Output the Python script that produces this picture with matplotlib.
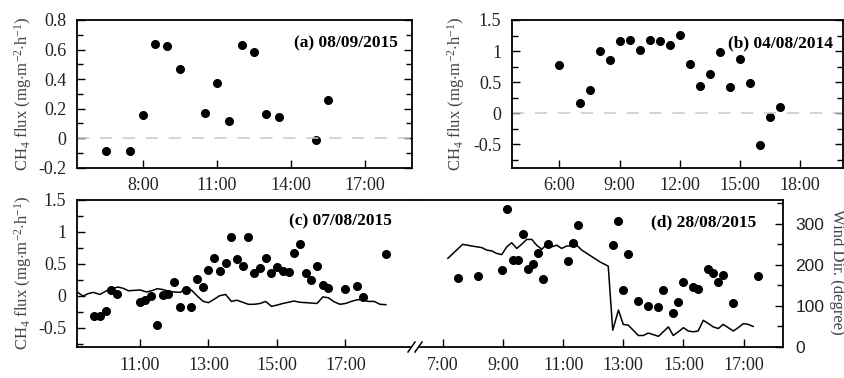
import matplotlib
matplotlib.use("Agg")
import matplotlib.pyplot as plt
from matplotlib.ticker import MultipleLocator, FuncFormatter, FixedLocator
from matplotlib.lines import Line2D

# ---------------- data ----------------
# (a) 08/09/2015
a_time = [6.5, 7.5, 8.0, 8.5, 9.0, 9.5, 10.5, 11.0, 11.5, 12.0, 12.5, 13.0, 13.5, 15.0, 15.5]
a_flux = [-0.09, -0.085, 0.155, 0.636, 0.627, 0.467, 0.171, 0.371, 0.115, 0.634, 0.584, 0.162, 0.144, -0.011, 0.256]

# (b) 04/08/2014
b_time = [6.0, 7.0, 7.5, 8.0, 8.5, 9.0, 9.5, 10.0, 10.5, 11.0, 11.5, 12.0, 12.5, 13.0, 13.5,
          14.0, 14.5, 15.0, 15.5, 16.0, 16.5, 17.0]
b_flux = [0.778, 0.162, 0.368, 1.005, 0.859, 1.168, 1.178, 1.016, 1.184, 1.157, 1.097, 1.254, 0.80,
          0.432, 0.638, 0.984, 0.416, 0.870, 0.486, -0.508, -0.065, 0.108]

# (c) 07/08/2015  CH4 flux
c_time = [9.67, 9.83, 10.0, 10.16, 10.33, 11.0, 11.16, 11.32, 11.49, 11.66, 11.83, 12.0, 12.18,
          12.33, 12.5, 12.67, 12.84, 13.0, 13.16, 13.33, 13.5, 13.67, 13.83, 14.0, 14.16, 14.34,
          14.5, 14.67, 14.84, 15.0, 15.17, 15.34, 15.5, 15.66, 15.84, 16.0, 16.17, 16.34, 16.5,
          17.0, 17.34, 17.5, 18.18]
c_flux = [-0.32, -0.31, -0.23, 0.093, 0.031, -0.093, -0.057, 0.0, -0.456, 0.016, 0.036, 0.22, -0.18,
          0.088, -0.18, 0.26, 0.145, 0.41, 0.59, 0.383, 0.518, 0.927, 0.575, 0.47, 0.917, 0.352,
          0.44, 0.585, 0.352, 0.446, 0.394, 0.373, 0.674, 0.808, 0.352, 0.244, 0.466, 0.166, 0.124,
          0.114, 0.150, -0.02, 0.653]
# (c) wind direction
c_wtime = [9.20, 9.34, 9.49, 9.64, 9.83, 10.0, 10.17, 10.36, 10.51, 10.66, 10.85, 11.0, 11.19,
           11.34, 11.51, 11.66, 11.83, 12.0, 12.18, 12.36, 12.51, 12.70, 12.85, 13.0, 13.16, 13.33,
           13.50, 13.67, 13.83, 14.0, 14.16, 14.34, 14.51, 14.67, 14.84, 15.0, 15.17, 15.34, 15.50,
           15.66, 15.84, 16.0, 16.17, 16.34, 16.50, 16.67, 16.84, 17.0, 17.17, 17.34, 17.50, 17.67,
           17.84, 18.01, 18.18]
c_wind = [132, 124, 130, 133, 128, 136, 142, 146, 143, 137, 138, 139, 134,
          137, 142, 140, 136, 134, 133, 145, 138, 122, 111, 108, 116, 125,
          128, 111, 114, 109, 104, 104, 106, 111, 99, 102, 106, 109, 112,
          109, 108, 107, 106, 122, 120, 110, 104, 106, 111, 115, 115, 111,
          111, 104, 103]

# (d) 28/08/2015  CH4 flux
d_time = [7.49, 8.16, 8.98, 9.15, 9.33, 9.50, 9.67, 9.82, 9.99, 10.16, 10.32, 10.49, 11.17, 11.34,
          11.5, 12.67, 12.84, 13.0, 13.16, 13.49, 13.83, 14.17, 14.33, 14.66, 14.83, 15.0, 15.33,
          15.49, 15.82, 15.99, 16.16, 16.32, 16.66, 17.49]
d_flux = [0.275, 0.316, 0.399, 1.363, 0.554, 0.554, 0.969, 0.415, 0.497, 0.663, 0.259, 0.808, 0.544,
          0.829, 1.109, 0.803, 1.176, 0.093, 0.648, -0.073, -0.155, -0.176, 0.093, -0.264, -0.093,
          0.218, 0.145, 0.114, 0.425, 0.363, 0.218, 0.332, -0.104, 0.306]
# (d) wind direction
d_wtime = [7.17, 7.66, 7.96, 8.30, 8.46, 8.63, 8.79, 8.96, 9.13, 9.29, 9.46, 9.62, 9.79, 9.96, 10.12,
           10.29, 10.46, 10.62, 10.79, 10.95, 11.12, 11.29, 11.45, 11.62, 12.23, 12.50, 12.65, 12.84,
           13.0, 13.17, 13.50, 13.67, 13.83, 14.17, 14.50, 14.66, 14.83, 15.0, 15.16, 15.33, 15.49,
           15.66, 15.83, 15.99, 16.16, 16.32, 16.49, 16.66, 16.82, 16.99, 17.16, 17.32]
d_wind = [216, 250, 246, 242, 236, 234, 228, 225, 244, 254, 240, 250, 262, 262, 248,
          238, 250, 244, 248, 240, 246, 246, 248, 236, 207, 197, 41, 90,
          55, 53, 28, 28, 34, 26, 49, 28, 37, 47, 39, 37, 39,
          65, 57, 49, 45, 55, 47, 39, 47, 57, 55, 50]

panel_labels = ["(a) 08/09/2015", "(b) 04/08/2014", "(c) 07/08/2015", "(d) 28/08/2015"]
ylabel_flux = "CH$_4$ flux (mg$\\cdot$m$^{-2}$$\\cdot$h$^{-1}$)"
ylabel_wind = "Wind Dir. (degree)"

# ---------------- style ----------------
SERIF = ["Liberation Serif", "DejaVu Serif"]
SANS = ["Liberation Sans", "DejaVu Sans"]
plt.rcParams["font.family"] = SERIF
plt.rcParams["mathtext.fontset"] = "custom"
plt.rcParams["mathtext.rm"] = "Liberation Serif"
plt.rcParams["mathtext.it"] = "Liberation Serif:italic"
TICKFS = 13
LABFS = 12
PANFS = 12.5
TXT = "#222222"
LW_SPINE = 1.3

W, H = 845, 378
fig = plt.figure(figsize=(W / 100, H / 100), dpi=100)


def box(l, r, t, b):
    return [l / W, 1 - b / H, (r - l) / W, (b - t) / H]


def hfmt(v, pos):
    return f"{int(round(v))}:00"


def gfmt(v, pos):
    return f"{v:g}"


def style(ax):
    for s in ax.spines.values():
        s.set_linewidth(LW_SPINE)
    ax.tick_params(which="both", direction="in", colors="black", labelcolor=TXT,
                   labelsize=TICKFS, width=1.0)
    ax.tick_params(which="major", length=6)
    ax.tick_params(which="minor", length=4)
    ax.tick_params(axis="y", pad=8)
    ax.tick_params(axis="x", pad=7)
    ax.xaxis.set_major_formatter(FuncFormatter(hfmt))
    ax.yaxis.set_major_formatter(FuncFormatter(gfmt))
    ax.xaxis.set_minor_locator(FixedLocator([]))


MS = 5.5

# (a)
axa = fig.add_axes(box(77.3, 412, 20, 167.7))
style(axa)
axa.plot(a_time, a_flux, "o", color="black", ms=MS)
axa.axhline(0, color="#c8c8c8", lw=1.1, dashes=(8, 7))
axa.set_xlim(5.35, 18.9)
axa.set_ylim(-0.2, 0.8)
axa.xaxis.set_major_locator(FixedLocator([8, 11, 14, 17]))
axa.yaxis.set_major_locator(MultipleLocator(0.2))
axa.yaxis.set_minor_locator(MultipleLocator(0.1))
axa.tick_params(axis="y", which="both", right=True)
axa.text(0.957, 0.842, panel_labels[0], transform=axa.transAxes, ha="right", va="center",
         fontsize=PANFS, fontweight="bold", color="black")
fig.text(23 / W, 1 - 94 / H, ylabel_flux, rotation=90, ha="center", va="center",
         fontsize=LABFS, color="#444444")

# (b)
axb = fig.add_axes(box(512.3, 843, 20, 167.7))
style(axb)
axb.plot(b_time, b_flux, "o", color="black", ms=MS)
axb.axhline(0, color="#c8c8c8", lw=1.1, dashes=(8, 7))
axb.set_xlim(3.65, 20.13)
axb.set_ylim(-0.876, 1.5)
axb.xaxis.set_major_locator(FixedLocator([6, 9, 12, 15, 18]))
axb.yaxis.set_major_locator(MultipleLocator(0.5))
axb.yaxis.set_minor_locator(MultipleLocator(0.25))
axb.tick_params(axis="y", which="both", right=True)
axb.text(0.970, 0.842, panel_labels[1], transform=axb.transAxes, ha="right", va="center",
         fontsize=PANFS, fontweight="bold", color="black")
fig.text(456 / W, 1 - 94 / H, ylabel_flux, rotation=90, ha="center", va="center",
         fontsize=LABFS, color="#444444")

# (c)
XC0, XC1 = 77.3, 416.0
XD1 = 782.7
axc = fig.add_axes(box(XC0, XC1, 200, 347))
style(axc)
axc.spines["right"].set_visible(False)
axc.set_xlim(9.17, 19.06)
axc.set_ylim(-0.8, 1.5)
axc.xaxis.set_major_locator(FixedLocator([11, 13, 15, 17]))
axc.yaxis.set_major_locator(MultipleLocator(0.5))
axc.yaxis.set_minor_locator(MultipleLocator(0.25))
axc.text(0.928, 0.852, panel_labels[2], transform=axc.transAxes, ha="right", va="center",
         fontsize=PANFS, fontweight="bold", color="black")
twc = axc.twinx()
twc.set_ylim(0, 358)
twc.axis("off")
twc.plot(c_wtime, c_wind, color="black", lw=1.1)
axc.tick_params(axis="y", which="both", left=True, right=False, labelleft=True, labelright=False)
axc.plot(c_time, c_flux, "o", color="black", ms=MS, zorder=5)
axc.set_zorder(twc.get_zorder() + 1)
axc.patch.set_visible(False)
fig.text(23 / W, 1 - 273 / H, ylabel_flux, rotation=90, ha="center", va="center",
         fontsize=LABFS, color="#444444")

# (d)
axd = fig.add_axes(box(XC1, XD1, 200, 347))
style(axd)
axd.spines["left"].set_visible(False)
axd.spines["right"].set_visible(False)
axd.set_xlim(6.11, 18.30)
axd.set_ylim(-0.8, 1.5)
axd.xaxis.set_major_locator(FixedLocator([7, 9, 11, 13, 15, 17]))
axd.text(0.929, 0.848, panel_labels[3], transform=axd.transAxes, ha="right", va="center",
         fontsize=PANFS, fontweight="bold", color="black")
twd = axd.twinx()
twd.set_ylim(0, 358)
for k in ["top", "bottom", "left"]:
    twd.spines[k].set_visible(False)
twd.spines["right"].set_linewidth(LW_SPINE)
twd.yaxis.set_major_locator(MultipleLocator(100))
twd.yaxis.set_minor_locator(MultipleLocator(50))
twd.tick_params(which="both", direction="in", labelsize=TICKFS - 0.5, labelcolor=TXT, pad=9,
                width=1.0, labelfontfamily="Liberation Sans")
twd.tick_params(which="major", length=6)
twd.tick_params(which="minor", length=4)
twd.yaxis.set_major_formatter(FuncFormatter(gfmt))
twd.plot(d_wtime, d_wind, color="black", lw=1.1)
axd.tick_params(axis="y", which="both", left=False, right=False, labelleft=False, labelright=False)
axd.plot(d_time, d_flux, "o", color="black", ms=MS, zorder=5)
axd.set_zorder(twd.get_zorder() + 1)
axd.patch.set_visible(False)
fig.text(837 / W, 1 - 272 / H, ylabel_wind, rotation=270, ha="center", va="center",
         fontsize=LABFS, color="#444444")

# axis break on the bottom spine
c0, c1 = axc.get_xlim()
axc.spines["bottom"].set_bounds(c0, c0 + (c1 - c0) * (410.5 - XC0) / (XC1 - XC0))
d0, d1 = axd.get_xlim()
axd.spines["bottom"].set_bounds(d0 + (d1 - d0) * (420.5 - XC1) / (XD1 - XC1), d1)
yb = 347
for xc in (411.5, 418.5):
    fig.add_artist(Line2D([(xc - 3.5) / W, (xc + 3.5) / W], [1 - (yb + 5) / H, 1 - (yb - 5) / H],
                          transform=fig.transFigure, color="black", lw=1.1))

fig.savefig("out.png", dpi=100)
